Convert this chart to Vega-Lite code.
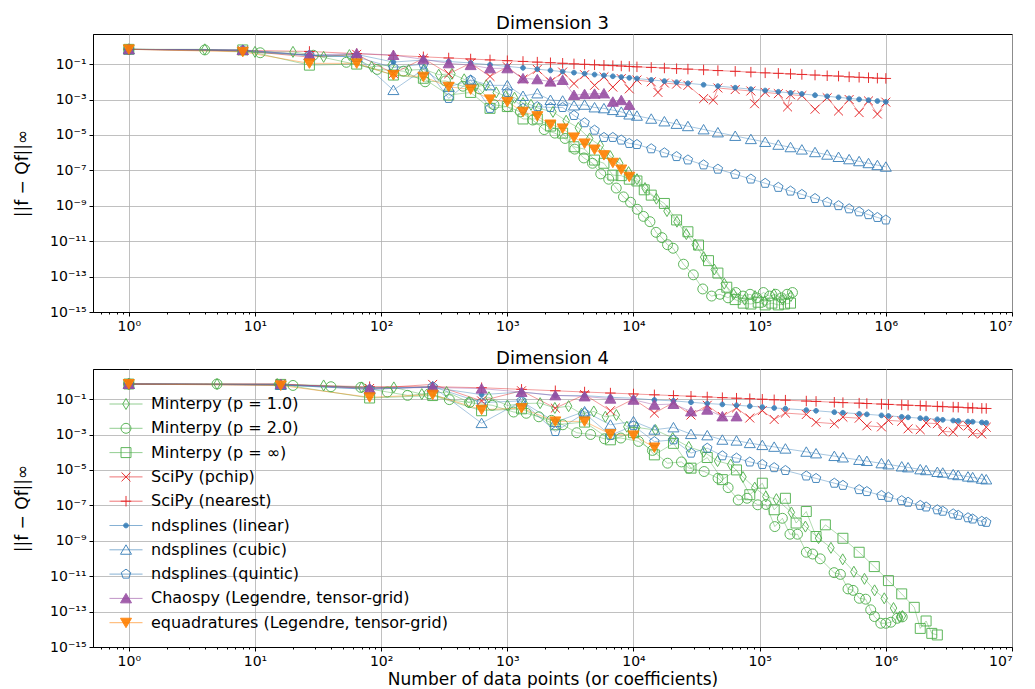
{
"$schema":"https://vega.github.io/schema/vega-lite/v6.json",
"padding":{"left":12,"top":14,"right":20,"bottom":0},
"config":{"font":"DejaVu Sans","view":{"stroke":"black","strokeWidth":1},
"axis":{"labelFont":"DejaVu Sans","labelFontSize":14,"labelColor":"black","titleFont":"DejaVu Sans","titleFontSize":17,"titleFontWeight":"normal","titleColor":"black","domainColor":"black","domainWidth":1,"tickColor":"black","tickSize":4,"tickWidth":1,"gridColor":"#b0b0b0","gridWidth":0.8,"labelPadding":3},
"title":{"font":"DejaVu Sans","fontSize":18,"fontWeight":"normal","color":"black","offset":1},
"legend":{"labelFont":"DejaVu Sans","labelFontSize":16,"labelColor":"black","symbolStrokeWidth":1,"rowPadding":8.3,"labelLimit":500,"padding":0}},
"spacing":15,
"resolve":{"scale":{"stroke":"independent","fill":"independent","shape":"independent","color":"independent"}},
"datasets":{
"d3":[
{"s":"m1","x":1,"y":0.68},{"s":"m1","x":4,"y":0.68},{"s":"m1","x":10,"y":0.49},{"s":"m1","x":20,"y":0.49},{"s":"m1","x":35,"y":0.257},{"s":"m1","x":56,"y":0.324},{"s":"m1","x":84,"y":0.0708},{"s":"m1","x":120,"y":0.0891},{"s":"m1","x":165,"y":0.0457},{"s":"m1","x":220,"y":0.05},{"s":"m1","x":286,"y":0.0251},{"s":"m1","x":364,"y":0.0282},{"s":"m1","x":455,"y":0.0138},{"s":"m1","x":560,"y":0.00562},{"s":"m1","x":680,"y":0.0063},{"s":"m1","x":816,"y":0.00251},{"s":"m1","x":969,"y":0.00158},{"s":"m1","x":1140,"y":0.00126},{"s":"m1","x":1330,"y":0.00063},{"s":"m1","x":1540,"y":0.000501},{"s":"m1","x":1771,"y":0.000316},{"s":"m1","x":2300,"y":0.0002},{"s":"m1","x":2925,"y":6.31e-5},{"s":"m1","x":3654,"y":2.51e-5},{"s":"m1","x":4495,"y":6.31e-6},{"s":"m1","x":5456,"y":2.51e-6},{"s":"m1","x":6545,"y":6.31e-7},{"s":"m1","x":7770,"y":2.51e-7},{"s":"m1","x":9139,"y":7.94e-8},{"s":"m1","x":10660,"y":3.16e-8},{"s":"m1","x":12341,"y":1e-8},{"s":"m1","x":15180,"y":2.51e-9},{"s":"m1","x":18424,"y":5.01e-10},{"s":"m1","x":22100,"y":1.26e-10},{"s":"m1","x":26235,"y":2.51e-11},{"s":"m1","x":30856,"y":6.31e-12},{"s":"m1","x":35990,"y":1.26e-12},{"s":"m1","x":43680,"y":2.51e-13},{"s":"m1","x":52394,"y":3.98e-14},{"s":"m1","x":62196,"y":1e-14},{"s":"m1","x":76076,"y":5.01e-15},{"s":"m1","x":91881,"y":7.94e-15},{"s":"m1","x":109736,"y":3.98e-15},{"s":"m1","x":129766,"y":1e-14},{"s":"m1","x":152096,"y":5.01e-15},{"s":"m1","x":176851,"y":7.94e-15},
{"s":"m2","x":1,"y":0.68},{"s":"m2","x":4,"y":0.63},{"s":"m2","x":11,"y":0.437},{"s":"m2","x":29,"y":0.316},{"s":"m2","x":53,"y":0.126},{"s":"m2","x":93,"y":0.05},{"s":"m2","x":150,"y":0.0398},{"s":"m2","x":223,"y":0.01},{"s":"m2","x":323,"y":0.0112},{"s":"m2","x":445,"y":0.00562},{"s":"m2","x":600,"y":0.00398},{"s":"m2","x":784,"y":0.000501},{"s":"m2","x":1000,"y":0.000398},{"s":"m2","x":1270,"y":0.0002},{"s":"m2","x":1590,"y":6.92e-5},{"s":"m2","x":1960,"y":2e-5},{"s":"m2","x":2380,"y":1.26e-5},{"s":"m2","x":2870,"y":6.31e-6},{"s":"m2","x":3420,"y":1.58e-6},{"s":"m2","x":4040,"y":5.01e-7},{"s":"m2","x":4730,"y":2.51e-7},{"s":"m2","x":5500,"y":6.31e-8},{"s":"m2","x":6360,"y":3.16e-8},{"s":"m2","x":7300,"y":1e-8},{"s":"m2","x":8330,"y":3.16e-9},{"s":"m2","x":9470,"y":1.58e-9},{"s":"m2","x":10700,"y":6.31e-10},{"s":"m2","x":12000,"y":2.51e-10},{"s":"m2","x":13500,"y":1.26e-10},{"s":"m2","x":15100,"y":3.16e-11},{"s":"m2","x":16800,"y":1.58e-11},{"s":"m2","x":18600,"y":6.31e-12},{"s":"m2","x":20600,"y":3.98e-12},{"s":"m2","x":24900,"y":5.01e-13},{"s":"m2","x":29800,"y":1.26e-13},{"s":"m2","x":35400,"y":2e-14},{"s":"m2","x":41600,"y":7.94e-15},{"s":"m2","x":48500,"y":1e-14},{"s":"m2","x":56200,"y":6.31e-15},{"s":"m2","x":64600,"y":1.26e-14},{"s":"m2","x":73800,"y":7.94e-15},{"s":"m2","x":83900,"y":1e-14},{"s":"m2","x":94900,"y":6.31e-15},{"s":"m2","x":107000,"y":1.26e-14},{"s":"m2","x":120000,"y":7.94e-15},{"s":"m2","x":134000,"y":1e-14},{"s":"m2","x":149000,"y":6.31e-15},{"s":"m2","x":165000,"y":1e-14},{"s":"m2","x":182000,"y":1.26e-14},
{"s":"mi","x":1,"y":0.68},{"s":"mi","x":8,"y":0.63},{"s":"mi","x":27,"y":0.0871},{"s":"mi","x":64,"y":0.1},{"s":"mi","x":125,"y":0.024},{"s":"mi","x":216,"y":0.0158},{"s":"mi","x":343,"y":0.00178},{"s":"mi","x":512,"y":0.00251},{"s":"mi","x":729,"y":0.000316},{"s":"mi","x":1000,"y":0.000398},{"s":"mi","x":1331,"y":7.94e-5},{"s":"mi","x":1728,"y":7.94e-5},{"s":"mi","x":2197,"y":3.16e-5},{"s":"mi","x":2744,"y":1.26e-5},{"s":"mi","x":3375,"y":2.14e-6},{"s":"mi","x":4096,"y":1.58e-6},{"s":"mi","x":4913,"y":3.8e-7},{"s":"mi","x":5832,"y":2.51e-7},{"s":"mi","x":6859,"y":5.37e-8},{"s":"mi","x":8000,"y":5.01e-8},{"s":"mi","x":9261,"y":3.16e-8},{"s":"mi","x":10648,"y":2.51e-8},{"s":"mi","x":12167,"y":7.94e-9},{"s":"mi","x":13824,"y":3.98e-9},{"s":"mi","x":17576,"y":1.35e-9},{"s":"mi","x":21952,"y":1.58e-10},{"s":"mi","x":27000,"y":3.39e-11},{"s":"mi","x":32768,"y":6.03e-12},{"s":"mi","x":39304,"y":7.94e-13},{"s":"mi","x":46656,"y":1.58e-13},{"s":"mi","x":54872,"y":2.51e-14},{"s":"mi","x":64000,"y":5.01e-15},{"s":"mi","x":74088,"y":3.16e-15},{"s":"mi","x":85184,"y":2.82e-15},{"s":"mi","x":97336,"y":3.55e-15},{"s":"mi","x":110592,"y":2.51e-15},{"s":"mi","x":125000,"y":3.16e-15},{"s":"mi","x":140608,"y":2.51e-15},{"s":"mi","x":157464,"y":2.82e-15},{"s":"mi","x":175616,"y":3.16e-15},
{"s":"pc","x":1,"y":0.68},{"s":"pc","x":8,"y":0.56},{"s":"pc","x":27,"y":0.25},{"s":"pc","x":64,"y":0.355},{"s":"pc","x":125,"y":0.0295},{"s":"pc","x":216,"y":0.209},{"s":"pc","x":343,"y":0.0282},{"s":"pc","x":512,"y":0.112},{"s":"pc","x":729,"y":0.02},{"s":"pc","x":1000,"y":0.0708},{"s":"pc","x":1331,"y":0.0141},{"s":"pc","x":1728,"y":0.05},{"s":"pc","x":2197,"y":0.01},{"s":"pc","x":2744,"y":0.0355},{"s":"pc","x":3375,"y":0.00794},{"s":"pc","x":4096,"y":0.0251},{"s":"pc","x":4913,"y":0.00631},{"s":"pc","x":5832,"y":0.0191},{"s":"pc","x":6859,"y":0.00501},{"s":"pc","x":8000,"y":0.0151},{"s":"pc","x":9261,"y":0.00398},{"s":"pc","x":10648,"y":0.0126},{"s":"pc","x":13824,"y":0.01},{"s":"pc","x":15625,"y":0.00251},{"s":"pc","x":17576,"y":0.0085},{"s":"pc","x":21952,"y":0.0074},{"s":"pc","x":27000,"y":0.0063},{"s":"pc","x":35937,"y":0.00112},{"s":"pc","x":42875,"y":0.000933},{"s":"pc","x":46656,"y":0.00447},{"s":"pc","x":64000,"y":0.00363},{"s":"pc","x":85184,"y":0.00302},{"s":"pc","x":91125,"y":0.000575},{"s":"pc","x":110592,"y":0.00251},{"s":"pc","x":140608,"y":0.00214},{"s":"pc","x":166375,"y":0.00038},{"s":"pc","x":175616,"y":0.00186},{"s":"pc","x":216000,"y":0.00166},{"s":"pc","x":274625,"y":0.000282},{"s":"pc","x":343000,"y":0.00126},{"s":"pc","x":421875,"y":0.000224},{"s":"pc","x":512000,"y":0.001},{"s":"pc","x":614125,"y":0.000182},{"s":"pc","x":729000,"y":0.000832},{"s":"pc","x":857375,"y":0.000151},{"s":"pc","x":1000000,"y":0.000708},
{"s":"ne","x":1,"y":0.68},{"s":"ne","x":8,"y":0.6},{"s":"ne","x":27,"y":0.517},{"s":"ne","x":64,"y":0.388},{"s":"ne","x":125,"y":0.31},{"s":"ne","x":216,"y":0.258},{"s":"ne","x":343,"y":0.221},{"s":"ne","x":512,"y":0.194},{"s":"ne","x":729,"y":0.172},{"s":"ne","x":1000,"y":0.155},{"s":"ne","x":1331,"y":0.141},{"s":"ne","x":1728,"y":0.129},{"s":"ne","x":2197,"y":0.119},{"s":"ne","x":2744,"y":0.111},{"s":"ne","x":3375,"y":0.103},{"s":"ne","x":4096,"y":0.097},{"s":"ne","x":4913,"y":0.091},{"s":"ne","x":5832,"y":0.086},{"s":"ne","x":6859,"y":0.082},{"s":"ne","x":8000,"y":0.078},{"s":"ne","x":9261,"y":0.074},{"s":"ne","x":10648,"y":0.07},{"s":"ne","x":13824,"y":0.065},{"s":"ne","x":17576,"y":0.06},{"s":"ne","x":21952,"y":0.055},{"s":"ne","x":27000,"y":0.052},{"s":"ne","x":35937,"y":0.047},{"s":"ne","x":46656,"y":0.043},{"s":"ne","x":64000,"y":0.039},{"s":"ne","x":85184,"y":0.035},{"s":"ne","x":110592,"y":0.032},{"s":"ne","x":140608,"y":0.03},{"s":"ne","x":175616,"y":0.028},{"s":"ne","x":216000,"y":0.026},{"s":"ne","x":274625,"y":0.024},{"s":"ne","x":343000,"y":0.022},{"s":"ne","x":421875,"y":0.021},{"s":"ne","x":512000,"y":0.019},{"s":"ne","x":614125,"y":0.018},{"s":"ne","x":729000,"y":0.017},{"s":"ne","x":857375,"y":0.016},{"s":"ne","x":1000000,"y":0.0155},
{"s":"li","x":1,"y":0.68},{"s":"li","x":8,"y":0.55},{"s":"li","x":27,"y":0.3},{"s":"li","x":64,"y":0.35},{"s":"li","x":125,"y":0.13},{"s":"li","x":216,"y":0.17},{"s":"li","x":343,"y":0.14},{"s":"li","x":512,"y":0.116},{"s":"li","x":729,"y":0.0914},{"s":"li","x":1000,"y":0.074},{"s":"li","x":1331,"y":0.0612},{"s":"li","x":1728,"y":0.0514},{"s":"li","x":2197,"y":0.0438},{"s":"li","x":2744,"y":0.0378},{"s":"li","x":3375,"y":0.0329},{"s":"li","x":4096,"y":0.0289},{"s":"li","x":4913,"y":0.0256},{"s":"li","x":5832,"y":0.0228},{"s":"li","x":6859,"y":0.0205},{"s":"li","x":8000,"y":0.0185},{"s":"li","x":9261,"y":0.0168},{"s":"li","x":10648,"y":0.0153},{"s":"li","x":13824,"y":0.0128},{"s":"li","x":17576,"y":0.0109},{"s":"li","x":21952,"y":0.00944},{"s":"li","x":27000,"y":0.00822},{"s":"li","x":35937,"y":0.0068},{"s":"li","x":46656,"y":0.00571},{"s":"li","x":64000,"y":0.00463},{"s":"li","x":85184,"y":0.00382},{"s":"li","x":110592,"y":0.00321},{"s":"li","x":140608,"y":0.00274},{"s":"li","x":175616,"y":0.00236},{"s":"li","x":216000,"y":0.00206},{"s":"li","x":274625,"y":0.00175},{"s":"li","x":343000,"y":0.00151},{"s":"li","x":421875,"y":0.00132},{"s":"li","x":512000,"y":0.00116},{"s":"li","x":614125,"y":0.00102},{"s":"li","x":729000,"y":0.000914},{"s":"li","x":857375,"y":0.00082},{"s":"li","x":1000000,"y":0.00074},
{"s":"cu","x":1,"y":0.68},{"s":"cu","x":8,"y":0.62},{"s":"cu","x":27,"y":0.316},{"s":"cu","x":64,"y":0.251},{"s":"cu","x":125,"y":0.00339},{"s":"cu","x":216,"y":0.05},{"s":"cu","x":343,"y":0.00501},{"s":"cu","x":512,"y":0.0126},{"s":"cu","x":729,"y":0.0063},{"s":"cu","x":1000,"y":0.0063},{"s":"cu","x":1331,"y":0.00158},{"s":"cu","x":1728,"y":0.00219},{"s":"cu","x":2197,"y":0.000933},{"s":"cu","x":2744,"y":0.000851},{"s":"cu","x":3375,"y":0.000457},{"s":"cu","x":4096,"y":0.000501},{"s":"cu","x":4913,"y":0.000355},{"s":"cu","x":5832,"y":0.000316},{"s":"cu","x":6859,"y":0.000251},{"s":"cu","x":8000,"y":0.0002},{"s":"cu","x":9261,"y":0.000141},{"s":"cu","x":10648,"y":0.00012},{"s":"cu","x":13824,"y":8.13e-5},{"s":"cu","x":17576,"y":5.75e-5},{"s":"cu","x":21952,"y":4.17e-5},{"s":"cu","x":27000,"y":3.09e-5},{"s":"cu","x":35937,"y":2.04e-5},{"s":"cu","x":46656,"y":1.38e-5},{"s":"cu","x":64000,"y":8.71e-6},{"s":"cu","x":85184,"y":5.75e-6},{"s":"cu","x":110592,"y":3.98e-6},{"s":"cu","x":140608,"y":2.75e-6},{"s":"cu","x":175616,"y":2e-6},{"s":"cu","x":216000,"y":1.48e-6},{"s":"cu","x":274625,"y":1.05e-6},{"s":"cu","x":343000,"y":7.59e-7},{"s":"cu","x":421875,"y":5.62e-7},{"s":"cu","x":512000,"y":4.17e-7},{"s":"cu","x":614125,"y":3.24e-7},{"s":"cu","x":729000,"y":2.51e-7},{"s":"cu","x":857375,"y":1.95e-7},{"s":"cu","x":1000000,"y":1.58e-7},
{"s":"qu","x":1,"y":0.68},{"s":"qu","x":8,"y":0.62},{"s":"qu","x":27,"y":0.316},{"s":"qu","x":64,"y":0.251},{"s":"qu","x":125,"y":0.063},{"s":"qu","x":216,"y":0.1},{"s":"qu","x":343,"y":0.00115},{"s":"qu","x":512,"y":0.0126},{"s":"qu","x":729,"y":0.000316},{"s":"qu","x":1000,"y":0.00251},{"s":"qu","x":1331,"y":0.000316},{"s":"qu","x":1728,"y":0.000398},{"s":"qu","x":2197,"y":0.000355},{"s":"qu","x":2744,"y":0.000355},{"s":"qu","x":3375,"y":0.000126},{"s":"qu","x":4096,"y":4.9e-5},{"s":"qu","x":4913,"y":1.86e-5},{"s":"qu","x":5832,"y":7.24e-6},{"s":"qu","x":6859,"y":7.24e-6},{"s":"qu","x":8000,"y":5.13e-6},{"s":"qu","x":9261,"y":3.31e-6},{"s":"qu","x":10648,"y":2.88e-6},{"s":"qu","x":13824,"y":1.66e-6},{"s":"qu","x":17576,"y":9.77e-7},{"s":"qu","x":21952,"y":6.03e-7},{"s":"qu","x":27000,"y":3.89e-7},{"s":"qu","x":35937,"y":2.04e-7},{"s":"qu","x":46656,"y":1.17e-7},{"s":"qu","x":64000,"y":6.03e-8},{"s":"qu","x":85184,"y":3.24e-8},{"s":"qu","x":110592,"y":1.86e-8},{"s":"qu","x":140608,"y":1.1e-8},{"s":"qu","x":175616,"y":6.76e-9},{"s":"qu","x":216000,"y":4.37e-9},{"s":"qu","x":274625,"y":2.57e-9},{"s":"qu","x":343000,"y":1.58e-9},{"s":"qu","x":421875,"y":1.02e-9},{"s":"qu","x":512000,"y":6.76e-10},{"s":"qu","x":614125,"y":4.57e-10},{"s":"qu","x":729000,"y":3.16e-10},{"s":"qu","x":857375,"y":2.19e-10},{"s":"qu","x":1000000,"y":1.58e-10},
{"s":"ch","x":1,"y":0.68},{"s":"ch","x":8,"y":0.62},{"s":"ch","x":27,"y":0.324},{"s":"ch","x":64,"y":0.398},{"s":"ch","x":125,"y":0.324},{"s":"ch","x":216,"y":0.186},{"s":"ch","x":343,"y":0.11},{"s":"ch","x":512,"y":0.0871},{"s":"ch","x":729,"y":0.0575},{"s":"ch","x":1000,"y":0.0575},{"s":"ch","x":1331,"y":0.0155},{"s":"ch","x":1728,"y":0.0138},{"s":"ch","x":2197,"y":0.0102},{"s":"ch","x":2744,"y":0.0126},{"s":"ch","x":3375,"y":0.00178},{"s":"ch","x":4096,"y":0.002},{"s":"ch","x":4913,"y":0.00209},{"s":"ch","x":5832,"y":0.00219},{"s":"ch","x":6859,"y":0.000741},{"s":"ch","x":8000,"y":0.000912},{"s":"ch","x":9261,"y":0.00049},
{"s":"eq","x":1,"y":0.68},{"s":"eq","x":8,"y":0.49},{"s":"eq","x":27,"y":0.11},{"s":"eq","x":64,"y":0.11},{"s":"eq","x":125,"y":0.024},{"s":"eq","x":216,"y":0.0195},{"s":"eq","x":343,"y":0.00525},{"s":"eq","x":512,"y":0.00372},{"s":"eq","x":729,"y":0.00102},{"s":"eq","x":1000,"y":0.000741},{"s":"eq","x":1331,"y":0.000204},{"s":"eq","x":1728,"y":0.000115},{"s":"eq","x":2197,"y":3.89e-5},{"s":"eq","x":2744,"y":2.34e-5},{"s":"eq","x":3375,"y":7.24e-6},{"s":"eq","x":4096,"y":3.31e-6},{"s":"eq","x":4913,"y":1.51e-6},{"s":"eq","x":5832,"y":7.24e-7},{"s":"eq","x":6859,"y":2.69e-7},{"s":"eq","x":8000,"y":1.12e-7},{"s":"eq","x":9261,"y":4.37e-8}
],
"d4":[
{"s":"m1","x":1,"y":0.708},{"s":"m1","x":5,"y":0.708},{"s":"m1","x":15,"y":0.708},{"s":"m1","x":35,"y":0.589},{"s":"m1","x":70,"y":0.457},{"s":"m1","x":126,"y":0.457},{"s":"m1","x":210,"y":0.191},{"s":"m1","x":330,"y":0.251},{"s":"m1","x":495,"y":0.0676},{"s":"m1","x":715,"y":0.126},{"s":"m1","x":1001,"y":0.0437},{"s":"m1","x":1365,"y":0.0562},{"s":"m1","x":1820,"y":0.0589},{"s":"m1","x":2380,"y":0.0316},{"s":"m1","x":3060,"y":0.0398},{"s":"m1","x":3876,"y":0.0148},{"s":"m1","x":4845,"y":0.02},{"s":"m1","x":5985,"y":0.01},{"s":"m1","x":7315,"y":0.0126},{"s":"m1","x":8855,"y":0.00275},{"s":"m1","x":10626,"y":0.00251},{"s":"m1","x":14950,"y":0.00178},{"s":"m1","x":20475,"y":0.000631},{"s":"m1","x":27405,"y":0.0002},{"s":"m1","x":35960,"y":0.000105},{"s":"m1","x":46376,"y":3.16e-5},{"s":"m1","x":58905,"y":2e-5},{"s":"m1","x":73815,"y":3.98e-6},{"s":"m1","x":91390,"y":1e-6},{"s":"m1","x":111930,"y":3.16e-7},{"s":"m1","x":135751,"y":2.24e-7},{"s":"m1","x":178365,"y":3.98e-8},{"s":"m1","x":230300,"y":6.31e-9},{"s":"m1","x":292825,"y":1.41e-9},{"s":"m1","x":367290,"y":3.98e-10},{"s":"m1","x":455126,"y":8.91e-11},{"s":"m1","x":557845,"y":1.78e-11},{"s":"m1","x":677040,"y":7.08e-12},{"s":"m1","x":814385,"y":1.58e-12},{"s":"m1","x":971635,"y":5.62e-13},{"s":"m1","x":1150626,"y":1.58e-13},{"s":"m1","x":1282975,"y":5.01e-14},{"s":"m1","x":1353275,"y":5.62e-14},
{"s":"m2","x":1,"y":0.708},{"s":"m2","x":5,"y":0.708},{"s":"m2","x":20,"y":0.589},{"s":"m2","x":40,"y":0.5},{"s":"m2","x":69,"y":0.457},{"s":"m2","x":112,"y":0.251},{"s":"m2","x":162,"y":0.162},{"s":"m2","x":240,"y":0.2},{"s":"m2","x":347,"y":0.0933},{"s":"m2","x":501,"y":0.0631},{"s":"m2","x":759,"y":0.0447},{"s":"m2","x":1122,"y":0.0186},{"s":"m2","x":1413,"y":0.0158},{"s":"m2","x":1778,"y":0.01},{"s":"m2","x":2239,"y":0.00631},{"s":"m2","x":2754,"y":0.00355},{"s":"m2","x":3548,"y":0.00126},{"s":"m2","x":4571,"y":0.001},{"s":"m2","x":5888,"y":0.000575},{"s":"m2","x":7943,"y":0.000631},{"s":"m2","x":10965,"y":0.000407},{"s":"m2","x":14125,"y":0.000126},{"s":"m2","x":18621,"y":2.4e-5},{"s":"m2","x":23988,"y":2.82e-5},{"s":"m2","x":27542,"y":1.26e-5},{"s":"m2","x":36308,"y":8.13e-6},{"s":"m2","x":46774,"y":3.39e-6},{"s":"m2","x":56234,"y":1e-6},{"s":"m2","x":67608,"y":2e-7},{"s":"m2","x":79433,"y":2.51e-7},{"s":"m2","x":96605,"y":1.07e-7},{"s":"m2","x":112202,"y":1.12e-7},{"s":"m2","x":131826,"y":6.31e-9},{"s":"m2","x":151356,"y":1.86e-8},{"s":"m2","x":173780,"y":2.34e-9},{"s":"m2","x":199526,"y":2.34e-9},{"s":"m2","x":234423,"y":2.24e-10},{"s":"m2","x":263027,"y":1.78e-10},{"s":"m2","x":301995,"y":9.55e-11},{"s":"m2","x":389045,"y":1.58e-11},{"s":"m2","x":436516,"y":1.26e-11},{"s":"m2","x":501187,"y":1.91e-12},{"s":"m2","x":549541,"y":1.58e-12},{"s":"m2","x":616595,"y":5.62e-13},{"s":"m2","x":691831,"y":5.01e-13},{"s":"m2","x":758578,"y":1.26e-13},{"s":"m2","x":812831,"y":5.25e-14},{"s":"m2","x":912011,"y":2.19e-14},{"s":"m2","x":1000000,"y":2.19e-14},{"s":"m2","x":1096478,"y":2.51e-14},{"s":"m2","x":1230269,"y":4.17e-14},{"s":"m2","x":1348963,"y":5.01e-14},
{"s":"mi","x":1,"y":0.708},{"s":"mi","x":16,"y":0.676},{"s":"mi","x":81,"y":0.115},{"s":"mi","x":256,"y":0.158},{"s":"mi","x":625,"y":0.0219},{"s":"mi","x":1296,"y":0.0282},{"s":"mi","x":2401,"y":0.00355},{"s":"mi","x":4096,"y":0.00501},{"s":"mi","x":6561,"y":0.000501},{"s":"mi","x":10000,"y":0.00126},{"s":"mi","x":14641,"y":7.08e-5},{"s":"mi","x":20736,"y":0.000316},{"s":"mi","x":28561,"y":1.26e-5},{"s":"mi","x":38416,"y":5.01e-5},{"s":"mi","x":50625,"y":2.82e-6},{"s":"mi","x":65536,"y":1e-5},{"s":"mi","x":83521,"y":3.98e-7},{"s":"mi","x":104976,"y":1.78e-6},{"s":"mi","x":130321,"y":5.62e-8},{"s":"mi","x":160000,"y":2.51e-7},{"s":"mi","x":194481,"y":1e-8},{"s":"mi","x":234256,"y":4.47e-8},{"s":"mi","x":279841,"y":1.74e-9},{"s":"mi","x":331776,"y":7.94e-9},{"s":"mi","x":456976,"y":1.38e-9},{"s":"mi","x":614656,"y":2.24e-10},{"s":"mi","x":810000,"y":3.47e-11},{"s":"mi","x":1048576,"y":5.62e-12},{"s":"mi","x":1336336,"y":1e-12},{"s":"mi","x":1679616,"y":1.74e-13},{"s":"mi","x":1874161,"y":1.12e-14},{"s":"mi","x":2085136,"y":2.95e-14},{"s":"mi","x":2313441,"y":5.89e-15},{"s":"mi","x":2560000,"y":4.79e-15},
{"s":"pc","x":1,"y":0.708},{"s":"pc","x":16,"y":0.708},{"s":"pc","x":81,"y":0.398},{"s":"pc","x":256,"y":0.676},{"s":"pc","x":625,"y":0.0794},{"s":"pc","x":1296,"y":0.295},{"s":"pc","x":2401,"y":0.0309},{"s":"pc","x":4096,"y":0.178},{"s":"pc","x":6561,"y":0.0219},{"s":"pc","x":10000,"y":0.1},{"s":"pc","x":14641,"y":0.0162},{"s":"pc","x":20736,"y":0.0631},{"s":"pc","x":28561,"y":0.0126},{"s":"pc","x":38416,"y":0.0447},{"s":"pc","x":50625,"y":0.0105},{"s":"pc","x":65536,"y":0.0316},{"s":"pc","x":83521,"y":0.00851},{"s":"pc","x":104976,"y":0.0224},{"s":"pc","x":130321,"y":0.00708},{"s":"pc","x":160000,"y":0.0162},{"s":"pc","x":234256,"y":0.0135},{"s":"pc","x":279841,"y":0.0049},{"s":"pc","x":390625,"y":0.00407},{"s":"pc","x":456976,"y":0.00955},{"s":"pc","x":614656,"y":0.00832},{"s":"pc","x":707281,"y":0.00309},{"s":"pc","x":923521,"y":0.00269},{"s":"pc","x":1048576,"y":0.00631},{"s":"pc","x":1336336,"y":0.00562},{"s":"pc","x":1500625,"y":0.00209},{"s":"pc","x":1874161,"y":0.00186},{"s":"pc","x":2085136,"y":0.00447},{"s":"pc","x":2560000,"y":0.00407},{"s":"pc","x":2825761,"y":0.00151},{"s":"pc","x":3418801,"y":0.00138},{"s":"pc","x":3748096,"y":0.00331},{"s":"pc","x":4477456,"y":0.00302},{"s":"pc","x":4879681,"y":0.00117},{"s":"pc","x":5764801,"y":0.00107},{"s":"pc","x":6250000,"y":0.00257},
{"s":"ne","x":1,"y":0.708},{"s":"ne","x":16,"y":0.631},{"s":"ne","x":81,"y":0.5},{"s":"ne","x":256,"y":0.5},{"s":"ne","x":625,"y":0.437},{"s":"ne","x":1296,"y":0.355},{"s":"ne","x":2401,"y":0.295},{"s":"ne","x":4096,"y":0.251},{"s":"ne","x":6561,"y":0.219},{"s":"ne","x":10000,"y":0.195},{"s":"ne","x":14641,"y":0.174},{"s":"ne","x":20736,"y":0.158},{"s":"ne","x":28561,"y":0.145},{"s":"ne","x":38416,"y":0.132},{"s":"ne","x":50625,"y":0.12},{"s":"ne","x":65536,"y":0.112},{"s":"ne","x":83521,"y":0.105},{"s":"ne","x":104976,"y":0.0977},{"s":"ne","x":130321,"y":0.0912},{"s":"ne","x":160000,"y":0.0871},{"s":"ne","x":234256,"y":0.0776},{"s":"ne","x":279841,"y":0.0741},{"s":"ne","x":390625,"y":0.0661},{"s":"ne","x":456976,"y":0.0631},{"s":"ne","x":614656,"y":0.0589},{"s":"ne","x":707281,"y":0.0562},{"s":"ne","x":923521,"y":0.0525},{"s":"ne","x":1048576,"y":0.05},{"s":"ne","x":1336336,"y":0.0468},{"s":"ne","x":1500625,"y":0.0447},{"s":"ne","x":1874161,"y":0.0427},{"s":"ne","x":2085136,"y":0.0407},{"s":"ne","x":2560000,"y":0.0389},{"s":"ne","x":2825761,"y":0.0372},{"s":"ne","x":3418801,"y":0.0355},{"s":"ne","x":3748096,"y":0.0347},{"s":"ne","x":4477456,"y":0.0324},{"s":"ne","x":4879681,"y":0.0316},{"s":"ne","x":5764801,"y":0.0302},{"s":"ne","x":6250000,"y":0.0295},
{"s":"li","x":1,"y":0.708},{"s":"li","x":16,"y":0.631},{"s":"li","x":81,"y":0.447},{"s":"li","x":256,"y":0.457},{"s":"li","x":625,"y":0.178},{"s":"li","x":1296,"y":0.251},{"s":"li","x":2401,"y":0.158},{"s":"li","x":4096,"y":0.158},{"s":"li","x":6561,"y":0.126},{"s":"li","x":10000,"y":0.112},{"s":"li","x":14641,"y":0.0891},{"s":"li","x":20736,"y":0.0794},{"s":"li","x":28561,"y":0.0661},{"s":"li","x":38416,"y":0.0562},{"s":"li","x":50625,"y":0.0501},{"s":"li","x":65536,"y":0.0447},{"s":"li","x":83521,"y":0.0398},{"s":"li","x":104976,"y":0.0355},{"s":"li","x":130321,"y":0.0316},{"s":"li","x":160000,"y":0.0288},{"s":"li","x":234256,"y":0.024},{"s":"li","x":279841,"y":0.0219},{"s":"li","x":390625,"y":0.0182},{"s":"li","x":456976,"y":0.017},{"s":"li","x":614656,"y":0.0148},{"s":"li","x":707281,"y":0.0138},{"s":"li","x":923521,"y":0.012},{"s":"li","x":1048576,"y":0.0112},{"s":"li","x":1336336,"y":0.01},{"s":"li","x":1500625,"y":0.00933},{"s":"li","x":1874161,"y":0.00832},{"s":"li","x":2085136,"y":0.00794},{"s":"li","x":2560000,"y":0.00724},{"s":"li","x":2825761,"y":0.00676},{"s":"li","x":3418801,"y":0.00617},{"s":"li","x":3748096,"y":0.00589},{"s":"li","x":4477456,"y":0.00537},{"s":"li","x":4879681,"y":0.00525},{"s":"li","x":5764801,"y":0.00479},{"s":"li","x":6250000,"y":0.00457},
{"s":"cu","x":1,"y":0.708},{"s":"cu","x":16,"y":0.631},{"s":"cu","x":81,"y":0.355},{"s":"cu","x":256,"y":0.5},{"s":"cu","x":625,"y":0.00437},{"s":"cu","x":1296,"y":0.0741},{"s":"cu","x":2401,"y":0.00501},{"s":"cu","x":4096,"y":0.02},{"s":"cu","x":6561,"y":0.00355},{"s":"cu","x":10000,"y":0.0055},{"s":"cu","x":14641,"y":0.00186},{"s":"cu","x":20736,"y":0.00251},{"s":"cu","x":28561,"y":0.00105},{"s":"cu","x":38416,"y":0.000891},{"s":"cu","x":50625,"y":0.000501},{"s":"cu","x":65536,"y":0.000447},{"s":"cu","x":83521,"y":0.000324},{"s":"cu","x":104976,"y":0.000251},{"s":"cu","x":130321,"y":0.0002},{"s":"cu","x":160000,"y":0.000158},{"s":"cu","x":234256,"y":0.000105},{"s":"cu","x":279841,"y":8.51e-5},{"s":"cu","x":390625,"y":6.03e-5},{"s":"cu","x":456976,"y":5.01e-5},{"s":"cu","x":614656,"y":3.63e-5},{"s":"cu","x":707281,"y":3.16e-5},{"s":"cu","x":923521,"y":2.34e-5},{"s":"cu","x":1048576,"y":2.04e-5},{"s":"cu","x":1336336,"y":1.55e-5},{"s":"cu","x":1500625,"y":1.38e-5},{"s":"cu","x":1874161,"y":1.07e-5},{"s":"cu","x":2085136,"y":9.55e-6},{"s":"cu","x":2560000,"y":7.59e-6},{"s":"cu","x":2825761,"y":6.92e-6},{"s":"cu","x":3418801,"y":5.62e-6},{"s":"cu","x":3748096,"y":5.01e-6},{"s":"cu","x":4477456,"y":4.17e-6},{"s":"cu","x":4879681,"y":3.8e-6},{"s":"cu","x":5764801,"y":3.16e-6},{"s":"cu","x":6250000,"y":2.88e-6},
{"s":"qu","x":1,"y":0.708},{"s":"qu","x":16,"y":0.631},{"s":"qu","x":81,"y":0.355},{"s":"qu","x":256,"y":0.5},{"s":"qu","x":625,"y":0.063},{"s":"qu","x":1296,"y":0.0794},{"s":"qu","x":2401,"y":0.00148},{"s":"qu","x":4096,"y":0.0158},{"s":"qu","x":6561,"y":0.000891},{"s":"qu","x":10000,"y":0.00316},{"s":"qu","x":14641,"y":0.000398},{"s":"qu","x":20736,"y":0.000501},{"s":"qu","x":28561,"y":8.91e-5},{"s":"qu","x":38416,"y":0.00017},{"s":"qu","x":50625,"y":6.31e-5},{"s":"qu","x":65536,"y":4.68e-5},{"s":"qu","x":83521,"y":2.82e-5},{"s":"qu","x":104976,"y":2.04e-5},{"s":"qu","x":130321,"y":1.35e-5},{"s":"qu","x":160000,"y":9.33e-6},{"s":"qu","x":234256,"y":4.57e-6},{"s":"qu","x":279841,"y":3.31e-6},{"s":"qu","x":390625,"y":1.78e-6},{"s":"qu","x":456976,"y":1.35e-6},{"s":"qu","x":614656,"y":7.76e-7},{"s":"qu","x":707281,"y":6.03e-7},{"s":"qu","x":923521,"y":3.63e-7},{"s":"qu","x":1048576,"y":2.88e-7},{"s":"qu","x":1336336,"y":1.86e-7},{"s":"qu","x":1500625,"y":1.51e-7},{"s":"qu","x":1874161,"y":1e-7},{"s":"qu","x":2085136,"y":8.13e-8},{"s":"qu","x":2560000,"y":5.62e-8},{"s":"qu","x":2825761,"y":4.68e-8},{"s":"qu","x":3418801,"y":3.31e-8},{"s":"qu","x":3748096,"y":2.75e-8},{"s":"qu","x":4477456,"y":2e-8},{"s":"qu","x":4879681,"y":1.7e-8},{"s":"qu","x":5764801,"y":1.26e-8},{"s":"qu","x":6250000,"y":1.1e-8},
{"s":"ch","x":1,"y":0.708},{"s":"ch","x":16,"y":0.708},{"s":"ch","x":81,"y":0.389},{"s":"ch","x":256,"y":0.457},{"s":"ch","x":625,"y":0.389},{"s":"ch","x":1296,"y":0.251},{"s":"ch","x":2401,"y":0.162},{"s":"ch","x":4096,"y":0.141},{"s":"ch","x":6561,"y":0.105},{"s":"ch","x":10000,"y":0.0912},{"s":"ch","x":14641,"y":0.0479},{"s":"ch","x":20736,"y":0.0525},{"s":"ch","x":28561,"y":0.02},{"s":"ch","x":38416,"y":0.0251},{"s":"ch","x":50625,"y":0.0105},{"s":"ch","x":65536,"y":0.0105},
{"s":"eq","x":1,"y":0.708},{"s":"eq","x":16,"y":0.589},{"s":"eq","x":81,"y":0.126},{"s":"eq","x":256,"y":0.178},{"s":"eq","x":625,"y":0.0251},{"s":"eq","x":1296,"y":0.0309},{"s":"eq","x":2401,"y":0.0055},{"s":"eq","x":4096,"y":0.0055},{"s":"eq","x":6561,"y":0.00105},{"s":"eq","x":10000,"y":0.000891},{"s":"eq","x":14641,"y":0.000186}
]},
"vconcat":[
{"width":919,"height":278,"title":{"text":"Dimension 3"},"data":{"name":"d3"},
"resolve":{"axis":{"x":"independent"}},
"encoding":{
"y":{"field":"y","type":"quantitative","scale":{"type":"log","domain":[1e-15,5],"nice":false},"axis":{"values":[1e-15,1e-13,1e-11,1e-9,1e-7,1e-5,1e-3,1e-1],"labelExpr":"['10⁻¹⁵','10⁻¹³','10⁻¹¹','10⁻⁹','10⁻⁷','10⁻⁵','10⁻³','10⁻¹'][round((log(datum.value)/LN10+15)/2)]","title":"||f − Qf||∞","titleX":-62,"titleY":139,"grid":true}}},
"layer":[
{"mark":{"type":"line","strokeWidth":0.8,"opacity":0.55},
"encoding":{
"x":{"field":"x","type":"quantitative","scale":{"type":"log","domain":[0.52,10000000],"nice":false},"axis":{"orient":"bottom","values":[1,10,100,1000,10000,100000,1000000,10000000],"labelExpr":"['10⁰','10¹','10²','10³','10⁴','10⁵','10⁶','10⁷'][round(log(datum.value)/LN10)]","title":null,"grid":true}},
"color":{"field":"s","type":"nominal","scale":{"domain":["m1","m2","mi","pc","ne","li","cu","qu","ch","eq","zz"],"range":["#4daf4a","#4daf4a","#4daf4a","#e41a1c","#e41a1c","#377eb8","#377eb8","#377eb8","#984ea3","#ff7f00","#000000"]},"legend":null}}},
{"mark":{"type":"point","strokeWidth":1,"opacity":0.9,"size":110},
"encoding":{
"x":{"field":"x","type":"quantitative","axis":{"orient":"bottom","values":[0.6,0.7,0.8,0.9,2,3,4,5,6,7,8,9,20,30,40,50,60,70,80,90,200,300,400,500,600,700,800,900,2000,3000,4000,5000,6000,7000,8000,9000,20000,30000,40000,50000,60000,70000,80000,90000,200000,300000,400000,500000,600000,700000,800000,900000,2000000,3000000,4000000,5000000,6000000,7000000,8000000,9000000],"labels":false,"grid":false,"domain":false,"tickSize":2,"title":null}},
"stroke":{"field":"s","type":"nominal","scale":{"domain":["m1","m2","mi","pc","ne","li","cu","qu","ch","eq"],"range":["#4daf4a","#4daf4a","#4daf4a","#e41a1c","#e41a1c","#377eb8","#377eb8","#377eb8","#984ea3","#ff7f00"]},"legend":null},
"fill":{"field":"s","type":"nominal","scale":{"domain":["m1","m2","mi","pc","ne","li","cu","qu","ch","eq"],"range":["transparent","transparent","transparent","transparent","transparent","#377eb8","transparent","transparent","#984ea3","#ff7f00"]},"legend":null},
"shape":{"field":"s","type":"nominal","scale":{"domain":["m1","m2","mi","pc","ne","li","cu","qu","ch","eq"],"range":["M0,-1.05L0.62,0L0,1.05L-0.62,0Z","M0.95,0A0.95,0.95,0,1,1,-0.95,0A0.95,0.95,0,1,1,0.95,0Z","M-0.95,-0.95L0.95,-0.95L0.95,0.95L-0.95,0.95Z","M-0.85,-0.85L0.85,0.85M-0.85,0.85L0.85,-0.85","M-1,0L1,0M0,-1L0,1","M0.45,0A0.45,0.45,0,1,1,-0.45,0A0.45,0.45,0,1,1,0.45,0Z","M0,-0.95L1.05,0.85L-1.05,0.85Z","M0,-0.95L0.9,-0.29L0.56,0.77L-0.56,0.77L-0.9,-0.29Z","M0,-0.95L1.05,0.85L-1.05,0.85Z","M0,0.95L1.05,-0.85L-1.05,-0.85Z"]},"legend":null}}}
]},
{"width":919,"height":278,"title":{"text":"Dimension 4"},"data":{"name":"d4"},
"resolve":{"axis":{"x":"independent"}},
"encoding":{
"y":{"field":"y","type":"quantitative","scale":{"type":"log","domain":[1e-15,5],"nice":false},"axis":{"values":[1e-15,1e-13,1e-11,1e-9,1e-7,1e-5,1e-3,1e-1],"labelExpr":"['10⁻¹⁵','10⁻¹³','10⁻¹¹','10⁻⁹','10⁻⁷','10⁻⁵','10⁻³','10⁻¹'][round((log(datum.value)/LN10+15)/2)]","title":"||f − Qf||∞","titleX":-62,"titleY":139,"grid":true}}},
"layer":[
{"mark":{"type":"line","strokeWidth":0.8,"opacity":0.55},
"encoding":{
"x":{"field":"x","type":"quantitative","scale":{"type":"log","domain":[0.52,10000000],"nice":false},"axis":{"orient":"bottom","values":[1,10,100,1000,10000,100000,1000000,10000000],"labelExpr":"['10⁰','10¹','10²','10³','10⁴','10⁵','10⁶','10⁷'][round(log(datum.value)/LN10)]","title":"Number of data points (or coefficients)","titlePadding":3,"grid":true}},
"color":{"field":"s","type":"nominal","scale":{"domain":["m1","m2","mi","pc","ne","li","cu","qu","ch","eq","zz"],"range":["#4daf4a","#4daf4a","#4daf4a","#e41a1c","#e41a1c","#377eb8","#377eb8","#377eb8","#984ea3","#ff7f00","transparent"]},"legend":{"orient":"none","legendX":25,"legendY":27,"title":null,"symbolType":"M-3.15,0L3.15,0","symbolSize":110,"symbolStrokeWidth":1,"symbolOpacity":0.6,"labelOffset":17,"labelExpr":"' '"}}}},
{"mark":{"type":"point","strokeWidth":1,"opacity":0.9,"size":110},
"encoding":{
"x":{"field":"x","type":"quantitative","axis":{"orient":"bottom","values":[0.6,0.7,0.8,0.9,2,3,4,5,6,7,8,9,20,30,40,50,60,70,80,90,200,300,400,500,600,700,800,900,2000,3000,4000,5000,6000,7000,8000,9000,20000,30000,40000,50000,60000,70000,80000,90000,200000,300000,400000,500000,600000,700000,800000,900000,2000000,3000000,4000000,5000000,6000000,7000000,8000000,9000000],"labels":false,"grid":false,"domain":false,"tickSize":2,"title":null}},
"stroke":{"field":"s","type":"nominal","scale":{"domain":["m1","m2","mi","pc","ne","li","cu","qu","ch","eq"],"range":["#4daf4a","#4daf4a","#4daf4a","#e41a1c","#e41a1c","#377eb8","#377eb8","#377eb8","#984ea3","#ff7f00"]},"legend":{"orient":"none","legendX":25,"legendY":27,"title":null,"symbolSize":110,"symbolOpacity":0.9,"labelOffset":17,"labelExpr":"datum.label == 'm1' ? 'Minterpy (p = 1.0)' : datum.label == 'm2' ? 'Minterpy (p = 2.0)' : datum.label == 'mi' ? 'Minterpy (p = ∞)' : datum.label == 'pc' ? 'SciPy (pchip)' : datum.label == 'ne' ? 'SciPy (nearest)' : datum.label == 'li' ? 'ndsplines (linear)' : datum.label == 'cu' ? 'ndsplines (cubic)' : datum.label == 'qu' ? 'ndsplines (quintic)' : datum.label == 'ch' ? 'Chaospy (Legendre, tensor-grid)' : 'equadratures (Legendre, tensor-grid)'"}},
"fill":{"field":"s","type":"nominal","scale":{"domain":["m1","m2","mi","pc","ne","li","cu","qu","ch","eq"],"range":["transparent","transparent","transparent","transparent","transparent","#377eb8","transparent","transparent","#984ea3","#ff7f00"]},"legend":{"orient":"none","legendX":25,"legendY":27,"title":null,"symbolSize":110,"symbolOpacity":0.9,"labelOffset":17,"labelExpr":"datum.label == 'm1' ? 'Minterpy (p = 1.0)' : datum.label == 'm2' ? 'Minterpy (p = 2.0)' : datum.label == 'mi' ? 'Minterpy (p = ∞)' : datum.label == 'pc' ? 'SciPy (pchip)' : datum.label == 'ne' ? 'SciPy (nearest)' : datum.label == 'li' ? 'ndsplines (linear)' : datum.label == 'cu' ? 'ndsplines (cubic)' : datum.label == 'qu' ? 'ndsplines (quintic)' : datum.label == 'ch' ? 'Chaospy (Legendre, tensor-grid)' : 'equadratures (Legendre, tensor-grid)'"}},
"shape":{"field":"s","type":"nominal","scale":{"domain":["m1","m2","mi","pc","ne","li","cu","qu","ch","eq"],"range":["M0,-1.05L0.62,0L0,1.05L-0.62,0Z","M0.95,0A0.95,0.95,0,1,1,-0.95,0A0.95,0.95,0,1,1,0.95,0Z","M-0.95,-0.95L0.95,-0.95L0.95,0.95L-0.95,0.95Z","M-0.85,-0.85L0.85,0.85M-0.85,0.85L0.85,-0.85","M-1,0L1,0M0,-1L0,1","M0.45,0A0.45,0.45,0,1,1,-0.45,0A0.45,0.45,0,1,1,0.45,0Z","M0,-0.95L1.05,0.85L-1.05,0.85Z","M0,-0.95L0.9,-0.29L0.56,0.77L-0.56,0.77L-0.9,-0.29Z","M0,-0.95L1.05,0.85L-1.05,0.85Z","M0,0.95L1.05,-0.85L-1.05,-0.85Z"]},"legend":{"orient":"none","legendX":25,"legendY":27,"title":null,"symbolSize":110,"symbolOpacity":0.9,"labelOffset":17,"labelExpr":"datum.label == 'm1' ? 'Minterpy (p = 1.0)' : datum.label == 'm2' ? 'Minterpy (p = 2.0)' : datum.label == 'mi' ? 'Minterpy (p = ∞)' : datum.label == 'pc' ? 'SciPy (pchip)' : datum.label == 'ne' ? 'SciPy (nearest)' : datum.label == 'li' ? 'ndsplines (linear)' : datum.label == 'cu' ? 'ndsplines (cubic)' : datum.label == 'qu' ? 'ndsplines (quintic)' : datum.label == 'ch' ? 'Chaospy (Legendre, tensor-grid)' : 'equadratures (Legendre, tensor-grid)'"}}}}
]}
]}
